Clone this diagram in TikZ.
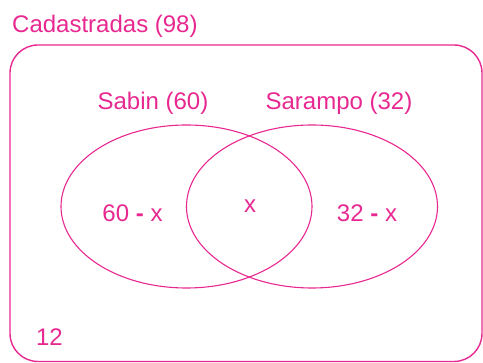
\documentclass[tikz,border=0pt]{standalone}
\usepackage{fontspec}
\setmainfont{Liberation Sans}
\definecolor{cpink}{RGB}{232,40,145}
\tikzset{venn/.style={x=1pt,y=-1pt,font=\fontsize{24}{28}\selectfont},
  lbl/.style={cpink,inner sep=0pt}}

\begin{document}
\begin{tikzpicture}[venn]
    \useasboundingbox (0,0) rectangle (483,363);
    \def\rx{125.5}
    \def\ry{81.5}
    \draw[cpink,line width=1.4pt,rounded corners=28] (10,45) rectangle (482,361.5);
    \draw[cpink,line width=1.1pt] (186.5,206.5) ellipse [x radius=\rx, y radius=\ry];
    \draw[cpink,line width=1.1pt] (312,206.5) ellipse [x radius=\rx, y radius=\ry];
    \node[lbl,anchor=west] (cad) at (12,26) {Cadastradas (98)};
    \node[lbl] (sab) at (153,103) {Sabin (60)};
    \node[lbl] (sar) at (339,103) {Sarampo (32)};
    \node[lbl] (sabonly) at (132.5,213) {60 \textbf{-} x};
    \node[lbl] (both) at (250,206) {x};
    \node[lbl] (saronly) at (367,213) {32 \textbf{-} x};
    \node[lbl] (none) at (49.5,337) {12};
  \end{tikzpicture}
\end{document}
